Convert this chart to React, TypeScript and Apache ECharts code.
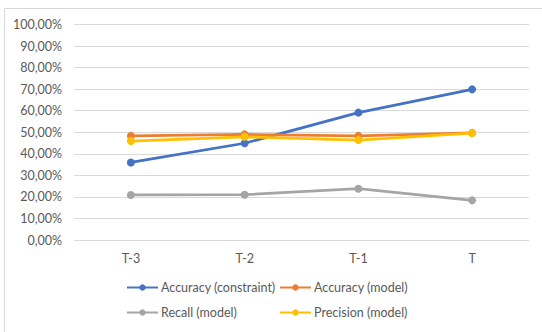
import React, { useEffect, useRef } from "react";
import * as echarts from "echarts";

const periods = ["T-3", "T-2", "T-1", "T"];
const accuracyConstraint = [0.36, 0.449, 0.591, 0.699];
const accuracyModel = [0.483, 0.49, 0.483, 0.497];
const recallModel = [0.209, 0.21, 0.238, 0.184];
const precisionModel = [0.459, 0.479, 0.464, 0.496];

const seriesNames = [
  "Accuracy (constraint)",
  "Accuracy (model)",
  "Recall (model)",
  "Precision (model)",
];
const seriesColors = ["#4472C4", "#ED7D31", "#A5A5A5", "#FFC000"];

const FONT = "Lato, 'Noto Sans', sans-serif";
const TEXT_COLOR = "#595959";

const fmtPct = (v: number) => (v * 100).toFixed(2).replace(".", ",") + "%";

export default function App() {
  const ref = useRef<HTMLDivElement>(null);

  useEffect(() => {
    if (!ref.current) return;
    const chart = echarts.init(ref.current, undefined, { renderer: "svg" });
    const values = [accuracyConstraint, accuracyModel, recallModel, precisionModel];
    const legendPos = [
      { left: 126, top: 281 },
      { left: 279, top: 281 },
      { left: 126, top: 306 },
      { left: 279, top: 306 },
    ];
    chart.setOption({
      animation: false,
      backgroundColor: "#ffffff",
      textStyle: { fontFamily: FONT },
      grid: { left: 74, right: 13, top: 24.5, bottom: 92 },
      graphic: [
        {
          type: "rect",
          shape: { x: 4.5, y: 8.5, width: 545, height: 330 },
          style: { fill: "none", stroke: "#D9D9D9", lineWidth: 1 },
          silent: true,
        },
      ],
      legend: legendPos.map((p, i) => ({
        data: [seriesNames[i]],
        left: p.left,
        top: p.top,
        itemWidth: 31,
        itemHeight: 8,
        itemGap: 0,
        padding: 0,
        textStyle: { fontFamily: FONT, fontSize: 12.5, color: TEXT_COLOR, padding: [0, 0, 0, -2] },
      })),
      xAxis: {
        type: "category",
        data: periods,
        boundaryGap: true,
        axisLine: { show: false },
        axisTick: { show: false },
        axisLabel: { color: TEXT_COLOR, fontSize: 12.5, fontFamily: FONT, margin: 12 },
      },
      yAxis: {
        type: "value",
        min: 0,
        max: 1,
        interval: 0.1,
        axisLine: { show: false },
        axisTick: { show: false },
        splitLine: { lineStyle: { color: "#D9D9D9", width: 1 } },
        axisLabel: {
          color: TEXT_COLOR,
          fontSize: 12.5,
          fontFamily: FONT,
          margin: 12,
          formatter: (v: number) => fmtPct(v),
        },
      },
      series: seriesNames.map((name, i) => ({
        name,
        type: "line",
        data: values[i],
        color: seriesColors[i],
        symbol: "circle",
        symbolSize: 8,
        lineStyle: { width: 2.75, color: seriesColors[i] },
        itemStyle: { color: seriesColors[i] },
      })),
    });
    return () => chart.dispose();
  }, []);

  return (
    <div
      ref={ref}
      style={{ position: "fixed", left: 0, top: 0, width: 542, height: 332 }}
    />
  );
}
